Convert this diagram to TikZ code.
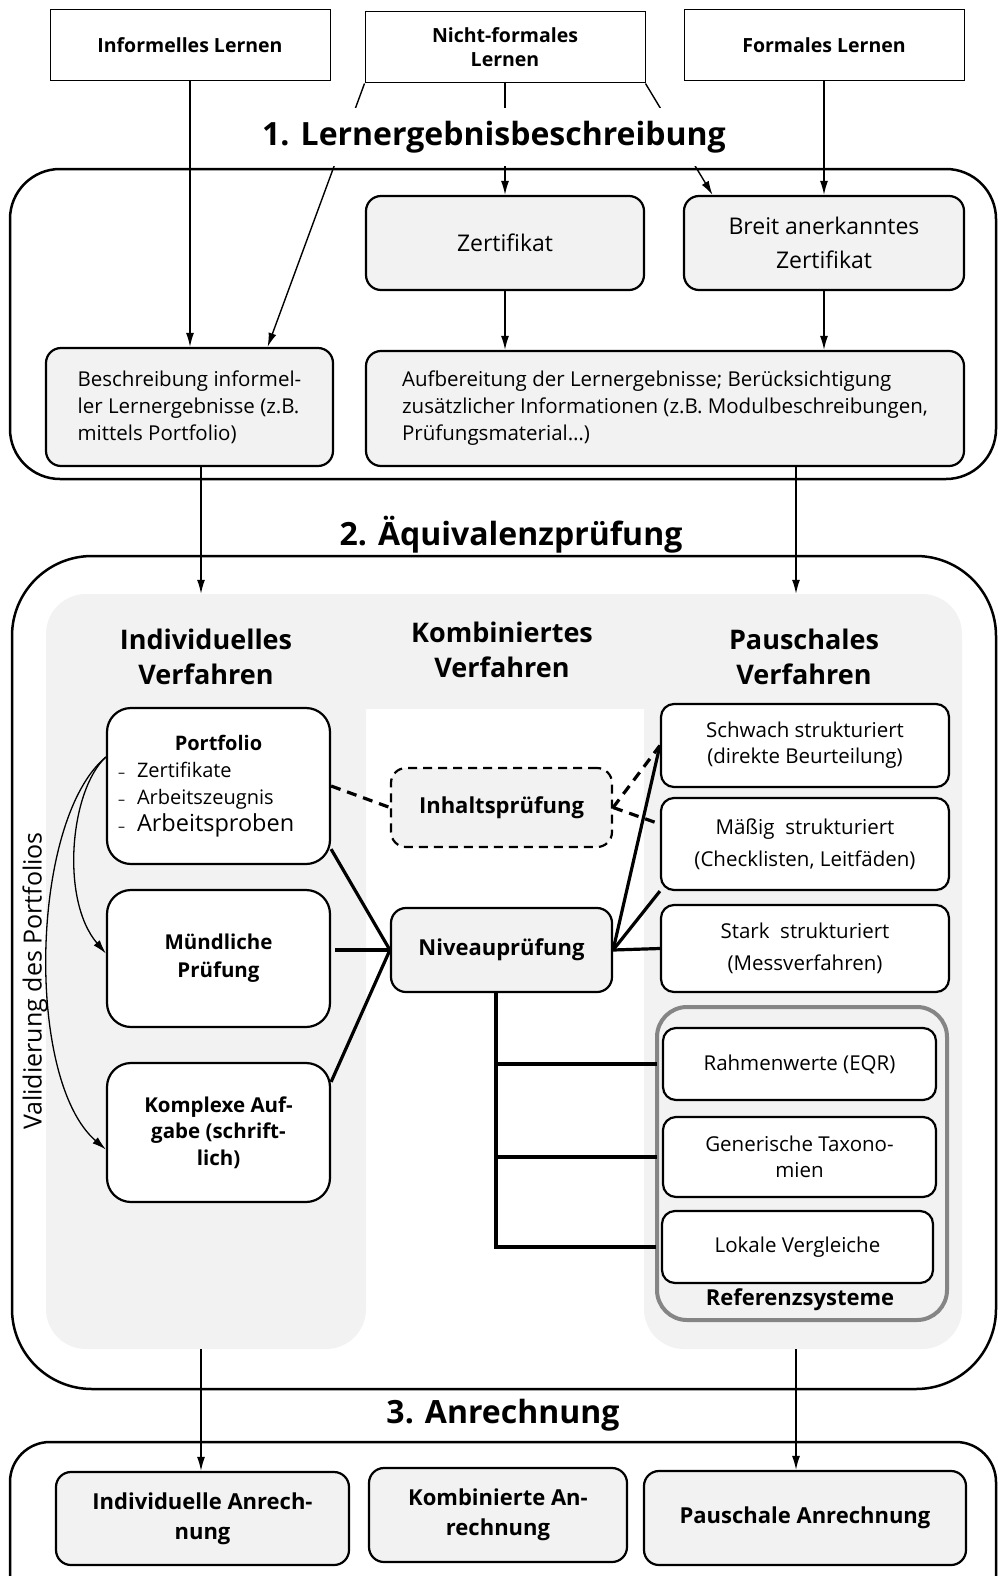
\documentclass[tikz,border=0pt]{standalone}
\usepackage{fontspec}
\setmainfont{Open Sans}
\usetikzlibrary{arrows.meta, positioning, calc}
\pgfdeclarelayer{background}
\pgfsetlayers{background,main}
\definecolor{boxgray}{gray}{0.95}
\definecolor{framegray}{gray}{0.52}
\newcommand{\listdash}{\makebox[19pt][l]{\fontsize{14}{14}\selectfont --}}

\tikzset{
  srcbox/.style={draw, line width=1pt, minimum width=280pt, minimum height=71pt,
    font=\fontsize{19.5}{24}\selectfont\bfseries, align=center},
  graybox/.style={draw, line width=2.2pt, rounded corners=15pt, fill=boxgray,
    align=center, font=\fontsize{23}{34}\selectfont},
  textbox/.style={align=left, font=\fontsize{20.5}{27}\selectfont},
  whitebox/.style={draw, line width=2.2pt, rounded corners=13pt, fill=white,
    align=center, font=\fontsize{20.5}{26}\selectfont},
  methodbox/.style={draw, line width=2.2pt, rounded corners=24pt, fill=white,
    align=center, minimum width=223pt, font=\fontsize{20.5}{28}\selectfont\bfseries},
  checkbox/.style={graybox, minimum width=221pt, font=\fontsize{22}{26}\selectfont\bfseries},
  resultbox/.style={graybox, font=\fontsize{22}{30}\selectfont\bfseries},
  stagetitle/.style={inner xsep=4pt, font=\fontsize{32}{36}\selectfont\bfseries},
  header/.style={align=center, font=\fontsize{27}{35}\selectfont\bfseries},
  section/.style={draw, line width=2.5pt},
  panel/.style={fill=boxgray, rounded corners=40pt, inner sep=0pt},
  flow/.style={->, line width=1.4pt},
  link/.style={line width=3.2pt},
  dashlink/.style={line width=3.2pt, dash pattern=on 10pt off 7pt},
  valid/.style={->, line width=1.3pt},
}

\begin{document}
\begin{tikzpicture}[x=1pt, y=-1pt, >={Latex[length=14pt,width=8pt]}]
\useasboundingbox (0,0) rectangle (998,1576);

% Herkunft des Lernens
\node (inf) [srcbox] at (190,45) {Informelles Lernen};
\node (nfl) [srcbox] at (505,47.5) {Nicht-formales\\Lernen};
\node (fml) [srcbox] at (824,45) {Formales Lernen};

% 1. Lernergebnisbeschreibung
\node (zert) [graybox, minimum width=278pt, minimum height=94pt] at (505,243) {Zertifikat};
\node (breit) [graybox, minimum width=280pt, minimum height=94pt] at (824,243) {Breit anerkanntes\\Zertifikat};
\node (beschr) [graybox, textbox, minimum width=287pt, minimum height=118pt] at (189.5,407)
  {Beschreibung informel-\\ler Lernergebnisse (z.B.\\mittels Portfolio)};
\node (aufb) [graybox, textbox, minimum width=598pt, minimum height=115pt] at (665,408.5)
  {Aufbereitung der Lernergebnisse; Berücksichtigung\\zusätzlicher Informationen (z.B. Modulbeschreibungen,\\Prüfungsmaterial\dots)};

% 2. Aequivalenzpruefung
\begin{pgfonlayer}{background}
  \draw[section, rounded corners=50pt] (10,169) rectangle (996,479);
  \draw[section, rounded corners=80pt] (12,556) rectangle (996,1389);
  \draw[section, rounded corners=40pt] (10,1442) rectangle (996,1640);
  \node (lpanel) [panel, minimum width=320pt, minimum height=755pt] at (206,971.5) {};
  \node (rpanel) [panel, minimum width=318pt, minimum height=755pt] at (803,971.5) {};
  \fill[boxgray] (330,594) rectangle (680,709);
  \node (refsys) [draw=framegray, line width=4pt, rounded corners=30pt, minimum width=290pt,
    minimum height=313pt] at (802,1163.5) {};
\end{pgfonlayer}

\node (hind) [header] at (206,657) {Individuelles\\Verfahren};
\node (hkomb) [header] at (502,650) {Kombiniertes\\Verfahren};
\node (hpausch) [header] at (804,657) {Pauschales\\Verfahren};

\node (portfolio) [methodbox, minimum height=156pt, text width=201pt, align=left,
  font=\fontsize{20}{27}\selectfont] at (218.5,786)
  {{\centering\bfseries Portfolio\par}
   \listdash Zertifikate\\
   \listdash Arbeitszeugnis\\
   \listdash{\fontsize{23.5}{29}\selectfont Arbeitsproben}};
\node (muend) [methodbox, minimum height=137pt] at (218.5,958.5) {Mündliche\\Prüfung};
\node (kompl) [methodbox, minimum height=139pt, font=\fontsize{20.5}{26.5}\selectfont\bfseries]
  at (218.5,1132.5) {Komplexe Auf-\\gabe (schrift-\\lich)};

\node (inhalt) [checkbox, dashed, dash pattern=on 9pt off 6pt, minimum height=79pt] at (501.5,807.5) {Inhaltsprüfung};
\node (niveau) [checkbox, minimum height=84pt] at (501.5,950) {Niveauprüfung};

\node (schwach) [whitebox, minimum width=288pt, minimum height=83pt] at (805,745.5)
  {Schwach strukturiert\\(direkte Beurteilung)};
\node (maessig) [whitebox, minimum width=288pt, minimum height=92pt, font=\fontsize{20.5}{32}\selectfont]
  at (805,844) {Mäßig\ \ strukturiert\\(Checklisten, Leitfäden)};
\node (stark) [whitebox, minimum width=288pt, minimum height=87pt, font=\fontsize{20.5}{32}\selectfont]
  at (805,948.5) {Stark\ \ strukturiert\\(Messverfahren)};

\node (rahmen) [whitebox, minimum width=273pt, minimum height=72pt] at (799.5,1064) {Rahmenwerte (EQR)};
\node (gener) [whitebox, minimum width=273pt, minimum height=80pt] at (799.5,1157) {Generische Taxono-\\mien};
\node (lokal) [whitebox, minimum width=271pt, minimum height=72pt] at (797.5,1247) {Lokale Vergleiche};
\node (reflabel) [font=\fontsize{22}{24}\selectfont\bfseries] at (800,1300) {Referenzsysteme};

\node (validtext) [rotate=90, font=\fontsize{25}{26}\selectfont] at (35,981) {Validierung des Portfolios};

% 3. Anrechnung
\node (indA) [resultbox, minimum width=293pt, minimum height=93pt] at (202.5,1518.5) {Individuelle Anrech-\\nung};
\node (kombA) [resultbox, minimum width=258pt, minimum height=94pt] at (498,1515) {Kombinierte An-\\rechnung};
\node (pausA) [resultbox, minimum width=322pt, minimum height=94pt] at (805,1518) {Pauschale Anrechnung};

% Verbindungen
\draw[flow] (inf.south) -- (inf.south |- beschr.north);
\draw[flow] (nfl.south west) -- ($(beschr.north east)!0.23!(beschr.north west)$);
\draw[flow] (nfl.south) -- (zert.north);
\draw[flow] (nfl.south east) -- ($(breit.north west)!0.105!(breit.north east)$);
\draw[flow] (fml.south) -- (breit.north);
\draw[flow] (zert.south) -- (zert.south |- aufb.north);
\draw[flow] (breit.south) -- (breit.south |- aufb.north);
\draw[flow] ([xshift=-5pt]lpanel.north |- beschr.south) -- ([xshift=-5pt]lpanel.north);
\draw[flow] ([xshift=-7pt]rpanel.north |- aufb.south) -- ([xshift=-7pt]rpanel.north);
\draw[flow] ([xshift=-5pt]lpanel.south) -- ([xshift=-5pt]lpanel.south |- indA.north);
\draw[flow] ([xshift=-7pt]rpanel.south) -- ([xshift=-7pt]rpanel.south |- pausA.north);

\draw[link] ([yshift=16pt]portfolio.south east) -- (niveau.west);
\draw[link] ([xshift=4pt]muend.east |- niveau.west) -- (niveau.west);
\draw[link] ([yshift=-20pt]kompl.north east) -- (niveau.west);
\draw[dashlink] (portfolio.east) -- (inhalt.west);
\draw[dashlink] (inhalt.east) -- (schwach.west);
\draw[dashlink] (inhalt.east) -- ([yshift=20pt]maessig.west);
\draw[link] (niveau.east) -- (schwach.west);
\draw[link] (niveau.east) -- (maessig.south west);
\draw[link] (niveau.east) -- (stark.west);
\draw[link] ([xshift=-5.5pt]niveau.south) |- ([xshift=-5pt]rahmen.west);
\draw[link] ([xshift=-5.5pt]niveau.south) |- ([xshift=-5pt]gener.west);
\draw[link] ([xshift=-5.5pt]niveau.south) |- ([xshift=-5pt]lokal.west);

\draw[valid] ([yshift=29pt]portfolio.west) .. controls (70,790) and (60,900) .. ([yshift=5pt]muend.west);
\draw[valid] ([yshift=29pt]portfolio.west) .. controls (30,820) and (25,1080) .. ([yshift=-17pt]kompl.west);

% Stufen
\node (stage1) [stagetitle, fill=white, minimum height=58pt] at (494,137) {1. Lernergebnisbeschreibung};
\node (stage2) [stagetitle] at (511,535) {2. Äquivalenzprüfung};
\node (stage3) [stagetitle] at (503,1415) {3. Anrechnung};

\end{tikzpicture}
\end{document}
